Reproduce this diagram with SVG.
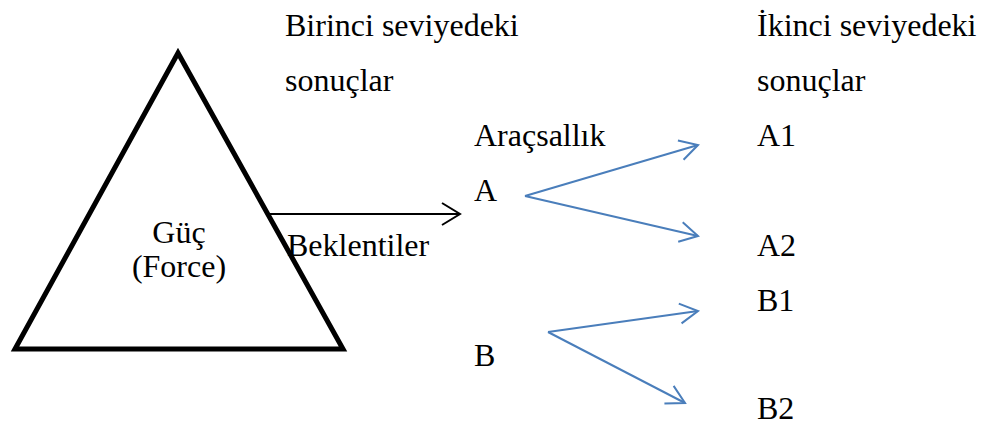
<svg xmlns="http://www.w3.org/2000/svg" width="988" height="425" viewBox="0 0 988 425">
<defs>
<style>
text{font-family:"Liberation Serif","Times New Roman",serif;font-size:32px;fill:#000}
.c{text-anchor:middle}
.blue{stroke:#4A7EBB;stroke-width:2;fill:none}
.blk{stroke:#000;stroke-width:2;fill:none}
</style>
<marker id="ab" viewBox="0 0 24 24" refX="20" refY="12" markerWidth="24" markerHeight="24" markerUnits="userSpaceOnUse" orient="auto"><path d="M2,2 L20,12 L2,22" fill="none" stroke="#4A7EBB" stroke-width="2"/></marker>
<marker id="ak" viewBox="0 0 24 24" refX="20" refY="12" markerWidth="24" markerHeight="24" markerUnits="userSpaceOnUse" orient="auto"><path d="M2,1 L20,12 L2,23" fill="none" stroke="#000" stroke-width="2"/></marker>
</defs>
<rect width="988" height="425" fill="#fff"/>
<g id="triangle">
<polygon points="178,53 15,349 343,349" fill="none" stroke="#000" stroke-width="5" stroke-linejoin="miter"/>
<text class="c" x="179" y="243">Güç</text>
<text class="c" x="179" y="277">(Force)</text>
</g>
<g id="first-level">
<text x="285" y="36">Birinci seviyedeki</text>
<text x="285" y="91">sonuçlar</text>
<text x="287" y="256">Beklentiler</text>
<text x="474" y="146">Araçsallık</text>
<text x="474" y="201">A</text>
<text x="474" y="366">B</text>
</g>
<g id="second-level">
<text x="757" y="36">İkinci seviyedeki</text>
<text x="757" y="91">sonuçlar</text>
<text x="757" y="146">A1</text>
<text x="757" y="256">A2</text>
<text x="757" y="311">B1</text>
<text x="757" y="419">B2</text>
</g>
<g id="connectors">
<line class="blk" x1="270" y1="214" x2="460" y2="214" marker-end="url(#ak)"/>
<line class="blue" x1="525" y1="196" x2="698" y2="145" marker-end="url(#ab)"/>
<line class="blue" x1="525" y1="196" x2="698" y2="236" marker-end="url(#ab)"/>
<line class="blue" x1="548" y1="332" x2="698" y2="311" marker-end="url(#ab)"/>
<line class="blue" x1="548" y1="332" x2="685" y2="403" marker-end="url(#ab)"/>
</g>
</svg>
